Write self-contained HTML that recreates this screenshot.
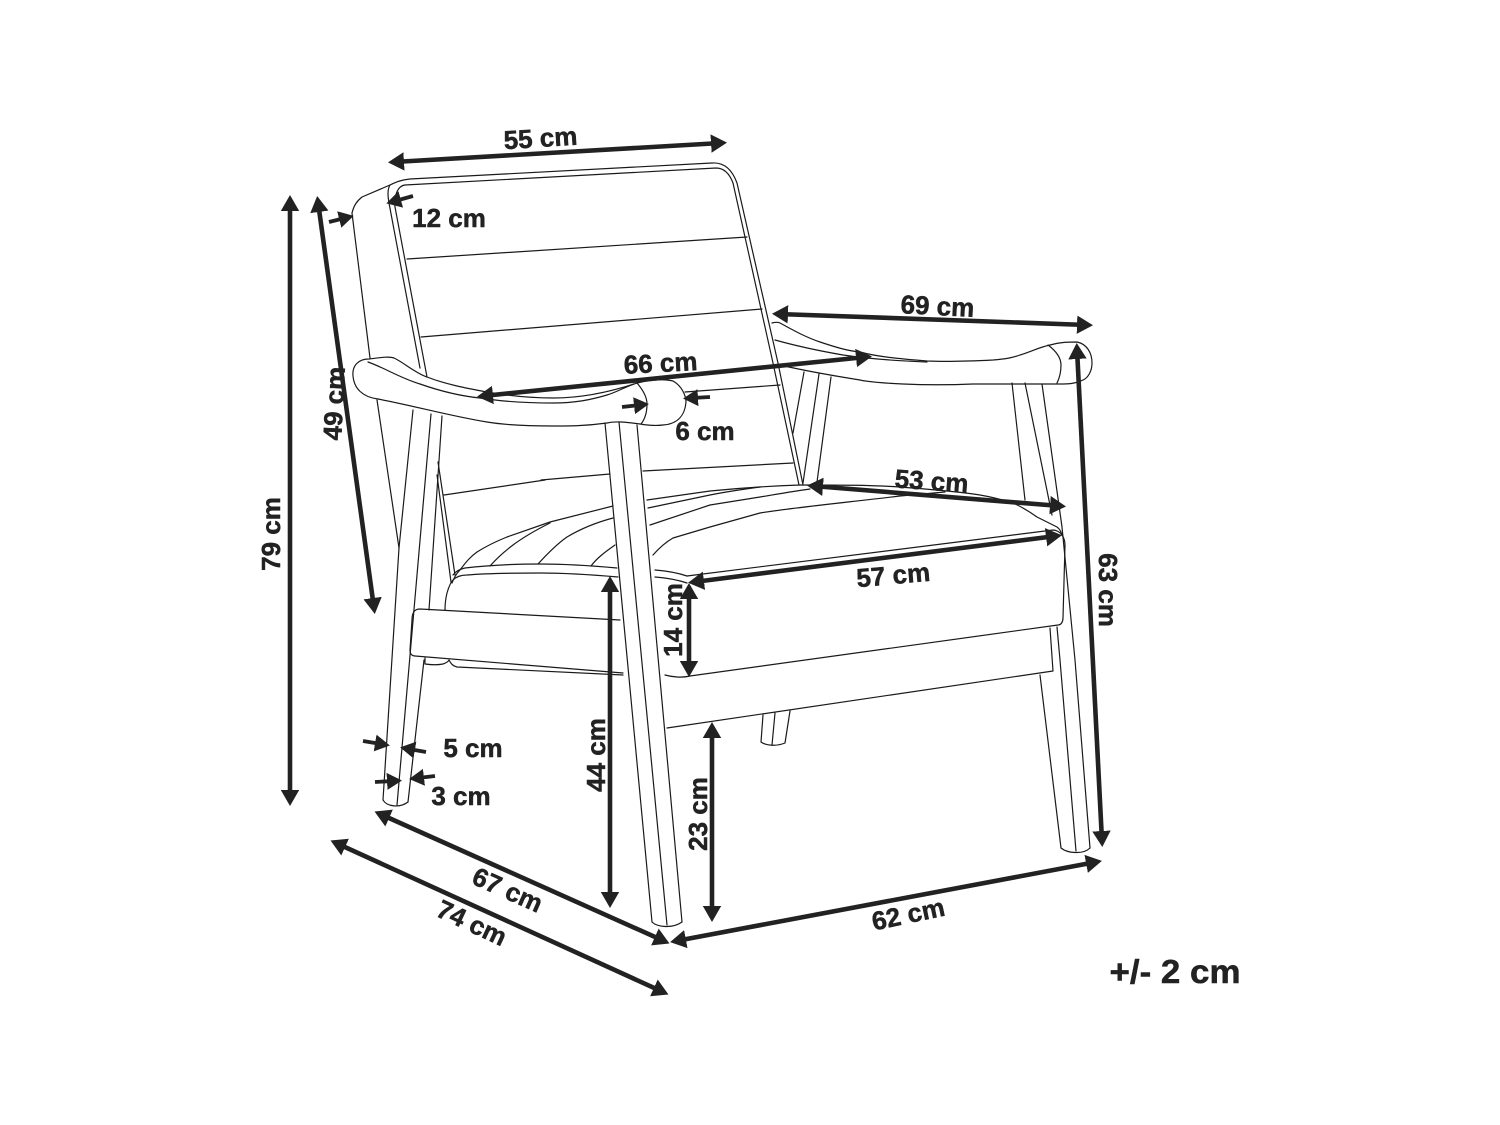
<!DOCTYPE html>
<html>
<head>
<meta charset="utf-8">
<style>
html,body{margin:0;padding:0;background:#fff;width:1500px;height:1125px;overflow:hidden}
svg{display:block}
.c path,.c polyline,.c line{fill:none;stroke:#1a1a1a;stroke-width:1.2;stroke-linejoin:round;stroke-linecap:round}
.a line{stroke:#222;stroke-width:4.6;marker-end:url(#h);marker-start:url(#h)}
.s line{stroke:#222;stroke-width:3.8;marker-end:url(#k)}
text{font-family:"Liberation Sans",sans-serif;font-weight:700;font-size:26px;fill:#222;stroke:#222;stroke-width:.5;text-anchor:middle}
</style>
</head>
<body>
<svg width="1500" height="1125" viewBox="0 0 1500 1125" xmlns="http://www.w3.org/2000/svg">
<defs>
<marker id="h" markerUnits="userSpaceOnUse" viewBox="0 -10 18 20" markerWidth="18" markerHeight="20" refX="10" refY="0" orient="auto-start-reverse"><path d="M0,-9.2L16,0L0,9.2Z" fill="#222"/></marker>
<marker id="k" markerUnits="userSpaceOnUse" viewBox="0 -10 18 20" markerWidth="18" markerHeight="20" refX="6" refY="0" orient="auto"><path d="M0,-8.5L15,0L0,8.5Z" fill="#222"/></marker>
</defs>
<rect width="1500" height="1125" fill="#fff"/>
<g class="c">
<!-- backrest -->
<path d="M352,213C354,205 357,201 362,197L390,185C396,182 401,180 410,179L712,163C726,162 733,172 737,183L778,363L803,485"/>
<path d="M352,213L370,358M377,400L399,548"/>
<path d="M390,185C387,190 388,197 389,203L420,368"/>
<path d="M395,207C394,197 397,186 405,185L716,168C725,168 730,175 733,183L773,363L799,485"/>
<path d="M395,207L427,377"/>
<path d="M407,259L747,237M421,337L762,309M685,392L780,385M643,471L793,463M541,480L610,474M444,495L545,480"/>
<path d="M438,462L455,575M437,475L451,582"/>
<!-- left arm -->
<path d="M353,376C352,366 358,359 369,359C378,358 388,356 394,358C403,362 415,373 427,377C445,384 465,388 487,392C510,396 530,398 553,398C580,398 610,392 637,383C645,381 662,378 673,381C682,386 686,396 686,402C685,415 678,424 663,425C655,426 645,425 640,424C625,422 615,421 607,423C585,426 570,426 553,426C530,426 505,425 487,422C450,416 415,406 378,399C362,397 354,388 353,376Z"/>
<path d="M368,362C385,368 400,378 420,384C440,391 460,396 480,398C505,402 530,403 553,403C575,403 590,400 607,395C617,392 625,387 634,384"/>
<path d="M637,383C643,390 647,397 647,404C647,412 645,419 641,424"/>
<!-- right arm -->
<path d="M772,323C776,322 778,322 780,323C793,330 805,337 820,342C835,347 848,351 860,352C875,356 890,358 927,361C950,362 973,361 993,360C1005,359 1012,358 1020,355C1030,352 1040,347 1050,345C1060,342 1069,342 1077,342C1087,344 1092,353 1092,363C1092,371 1088,378 1083,380C1075,384 1067,384 1060,384L973,384C950,385 925,385 903,384C882,383 868,382 860,380C835,376 810,372 780,365"/>
<path d="M775,340C800,347 820,351 843,355C870,359 900,361 927,362"/>
<path d="M1048,345C1056,351 1061,358 1061,365C1061,372 1059,379 1057,383"/>
<!-- arm posts right -->
<path d="M804,372L793,433M819,374L803,483M831,377L817,482M1012,383L1025,500M1025,383L1052,515M1042,384L1062,527L1075,660L1090,848"/>
<!-- seat -->
<path d="M800,485C840,485 870,485 900,487C925,489 955,491 980,495C992,497 1003,500 1013,503C1022,507 1030,512 1037,517L1057,527C1060,529 1061,532 1062,535C1064,538 1065,541 1065,545L1063,618C1063,622 1061,625 1058,625L690,676C682,678 672,677 665,675"/>
<path d="M647,500L710,491C740,488 770,486 800,485"/>
<path d="M648,508L710,495C730,491 745,489 760,487"/>
<path d="M650,525L710,505L760,497C778,494 795,491 810,489"/>
<path d="M653,555C660,547 666,542 673,538L710,527L760,513C790,508 850,502 900,496L945,492"/>
<path d="M687,576L1053,530C1056,530 1060,532 1062,535"/>
<path d="M655,570C668,571 678,573 687,576M655,577C668,578 678,580 687,583"/>
<!-- left seat cushion -->
<path d="M452,583C455,575 458,572 460,570C466,562 470,557 477,552C488,545 497,541 507,537L550,522L613,506"/>
<path d="M490,566C497,558 505,551 513,545C525,536 538,529 550,523"/>
<path d="M538,564C548,553 557,544 567,537C582,528 598,522 613,518"/>
<path d="M591,566C597,558 605,552 615,545"/>
<path d="M453,575C456,571 460,569 465,568C490,565 515,564 540,564C570,564 595,566 617,568"/>
<path d="M445,610C445,602 446,597 447,593C449,586 451,582 453,580C457,576 462,575 467,575C490,573 515,573 540,573C570,573 595,575 618,577"/>
<!-- front left panel -->
<path d="M420,609L620,620M420,609C414,609 412,613 412,620L410,650C410,654 412,656 415,656L623,673"/>
<path d="M425,658L425,664C432,665 438,665 443,664C446,663 448,662 449,660C451,664 453,666 457,667L623,675"/>
<!-- front right post -->
<path d="M605,423L652,922M619,422L667,925M637,425L682,922"/>
<path d="M652,922C657,927 672,929 682,922"/>
<!-- front left post -->
<path d="M413,410L399,548L383,800M431,414L397,805M442,416L429,610M424,660L408,802"/>
<path d="M383,800C387,807 400,808 408,802"/>
<!-- rail -->
<path d="M667,728L1053,671L1050,628"/>
<path d="M1040,675L1061,848M1057,627L1060,660L1076,851M1061,848C1067,853 1083,855 1090,848"/>
<path d="M763,715L761,742C765,745 775,747 785,743L790,711M775,713L772,745"/>
</g>
<g class="a">
<line x1="394" y1="162" x2="721" y2="143"/>
<line x1="318" y1="202" x2="374" y2="608"/>
<line x1="290" y1="201" x2="290" y2="800"/>
<line x1="778" y1="314" x2="1087" y2="325"/>
<line x1="483" y1="396" x2="866" y2="357"/>
<line x1="813" y1="486" x2="1060" y2="506"/>
<line x1="1056" y1="536" x2="694" y2="582"/>
<line x1="1077" y1="349" x2="1102" y2="841"/>
<line x1="689" y1="589" x2="689" y2="671"/>
<line x1="610" y1="582" x2="610" y2="902"/>
<line x1="712" y1="728" x2="712" y2="916"/>
<line x1="676" y1="941" x2="1096" y2="862"/>
<line x1="380" y1="814" x2="664" y2="941"/>
<line x1="336" y1="843" x2="663" y2="992"/>
</g>
<g class="s">
<line x1="413" y1="196" x2="395" y2="201"/>
<line x1="329" y1="222" x2="345" y2="218"/>
<line x1="622" y1="407" x2="640" y2="405"/>
<line x1="710" y1="397" x2="692" y2="398"/>
<line x1="363" y1="741" x2="381" y2="744"/>
<line x1="426" y1="752" x2="409" y2="749"/>
<line x1="375" y1="782" x2="393" y2="781"/>
<line x1="435" y1="776" x2="418" y2="778"/>
</g>
<text transform="translate(541,147) rotate(-3.5)">55 cm</text>
<text x="449" y="227">12 cm</text>
<text transform="translate(937,315) rotate(3)">69 cm</text>
<text transform="translate(661,372) rotate(-3)">66 cm</text>
<text x="705" y="440">6 cm</text>
<text transform="translate(931,490) rotate(4)">53 cm</text>
<text transform="translate(894,584) rotate(-5)">57 cm</text>
<text transform="translate(682,620) rotate(-90)">14 cm</text>
<text transform="translate(1099,590) rotate(90)">63 cm</text>
<text transform="translate(343,404) rotate(-87)">49 cm</text>
<text transform="translate(280,534) rotate(-90)">79 cm</text>
<text transform="translate(605,755) rotate(-90)">44 cm</text>
<text transform="translate(707,814) rotate(-90)">23 cm</text>
<text x="473" y="757">5 cm</text>
<text x="461" y="805">3 cm</text>
<text transform="translate(504,898) rotate(24)">67 cm</text>
<text transform="translate(468,931) rotate(25)">74 cm</text>
<text transform="translate(910,923) rotate(-12)">62 cm</text>
<text x="1175" y="983" style="font-size:33px" textLength="131" lengthAdjust="spacingAndGlyphs">+/- 2 cm</text>
</svg>
</body>
</html>
